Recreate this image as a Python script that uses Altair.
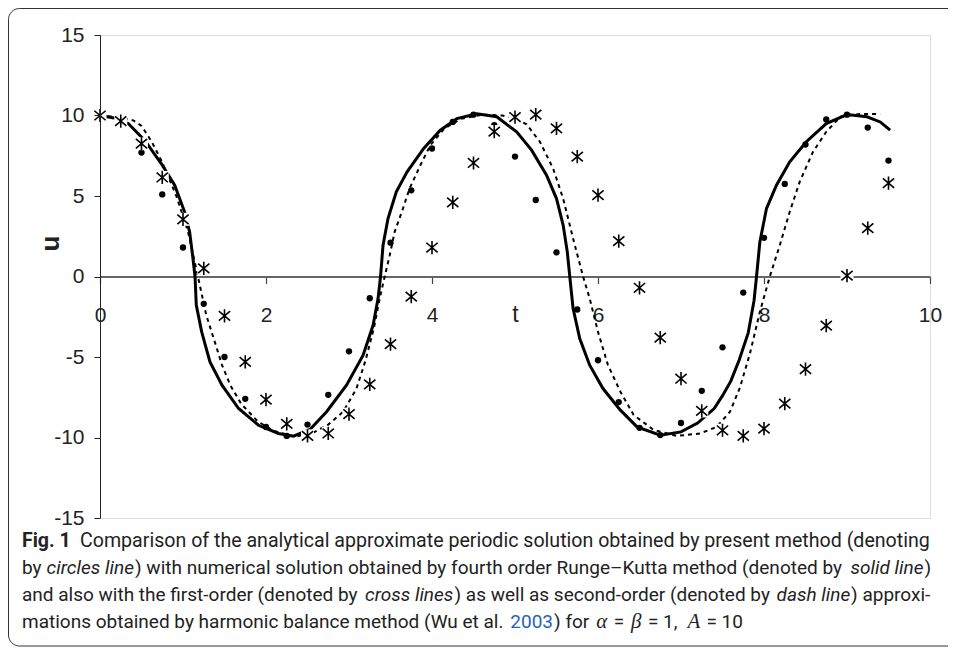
import altair as alt
import pandas as pd

# ---- numerical solution (fourth-order Runge-Kutta), solid line ----
solid_t = [0, 0.17, 0.34, 0.54, 0.74, 0.90, 1.02, 1.08, 1.12, 1.145, 1.16, 1.225, 1.325, 1.47,
           1.67, 1.91, 2.15, 2.33, 2.53, 2.73, 2.97, 3.17, 3.29, 3.35, 3.38, 3.41, 3.47, 3.57,
           3.70, 3.90, 4.10, 4.30, 4.54, 4.78, 5.02, 5.20, 5.38, 5.50, 5.58, 5.63, 5.66, 5.70,
           5.78, 5.90, 6.06, 6.27, 6.47, 6.75, 7.00, 7.20, 7.40, 7.50, 7.60, 7.70, 7.81, 7.88,
           7.91, 7.95, 8.03, 8.15, 8.31, 8.51, 8.75, 9.00, 9.24, 9.40, 9.52]
solid_u = [10, 9.85, 9.5, 8.45, 7.0, 5.67, 4.0, 2.77, 1.12, 0, -1.78, -3.44, -5.3, -6.75,
           -8.2, -9.24, -9.75, -9.92, -9.5, -8.4, -6.75, -4.89, -3.03, -1.37, 0, 1.94, 3.6, 5.26,
           6.5, 7.95, 9.09, 9.81, 10.1, 9.92, 8.99, 7.85, 6.29, 4.84, 3.19, 1.53, 0, -1.99,
           -3.85, -5.51, -6.96, -8.3, -9.34, -9.86, -9.65, -9.1, -8.2, -7.4, -6.5, -5.2, -3.5, -1.5,
           0, 2.14, 4.22, 5.67, 7.12, 8.37, 9.5, 10.06, 9.92, 9.6, 9.09]

# ---- second-order harmonic balance approximation, dash line ----
dash_t = [0, 0.2, 0.4, 0.5, 0.62, 0.75, 0.92, 1.06, 1.18, 1.28, 1.37, 1.47, 1.57, 1.70, 1.90,
          2.10, 2.35, 2.57, 2.75, 2.93, 3.09, 3.20, 3.30, 3.37, 3.43, 3.49, 3.55, 3.65, 3.73,
          3.86, 3.98, 4.15, 4.35, 4.60, 4.85, 5.00, 5.14, 5.30, 5.46, 5.58, 5.70, 5.82, 5.90,
          6.00, 6.12, 6.27, 6.43, 6.67, 6.95, 7.23, 7.43, 7.59, 7.71, 7.83, 7.95, 8.07, 8.19,
          8.31, 8.43, 8.59, 8.75, 8.92, 9.16, 9.40]
dash_u = [10, 9.9, 9.7, 9.35, 8.4, 7.1, 5.0, 2.8, 0, -2.4, -3.85, -5.5, -6.75, -7.9, -9.0,
          -9.6, -9.95, -9.7, -9.2, -8.4, -6.96, -5.2, -3.2, -1.37, 0, 1.3, 2.77, 4.22, 5.47,
          6.91, 8.16, 9.2, 9.8, 10.05, 10.0, 9.8, 9.45, 8.37, 6.7, 4.84, 2.36, 0, -1.37,
          -3.44, -5.5, -7.16, -8.6, -9.53, -9.9, -9.75, -9.34, -8.4, -6.9, -4.8, -2.2, 0, 1.94,
          4.02, 5.88, 7.74, 8.99, 9.92, 10.1, 10.1]

# ---- marker abscissae (shared by circles and crosses) ----
marker_t = [0, 0.25, 0.5, 0.75, 1.0, 1.25, 1.5, 1.75, 2.0, 2.25, 2.5, 2.75, 3.0, 3.25,
            3.5, 3.75, 4.0, 4.25, 4.5, 4.75, 5.0, 5.25, 5.5, 5.75, 6.0, 6.25, 6.5, 6.75,
            7.0, 7.25, 7.5, 7.75, 8.0, 8.25, 8.5, 8.75, 9.0, 9.25, 9.5]

# present method, circles
circle_u = [10, 9.6, 7.7, 5.1, 1.8, -1.7, -5.0, -7.6, -9.35, -9.9, -9.2, -7.35, -4.65, -1.35,
            2.1, 5.35, 7.95, 9.6, 10.05, 9.4, 7.45, 4.75, 1.5, -2.05, -5.2, -7.8, -9.4, -9.85,
            -9.1, -7.1, -4.4, -1.0, 2.4, 5.75, 8.2, 9.75, 10.05, 9.25, 7.2]

# first-order harmonic balance, crosses
cross_u = [10, 9.65, 8.25, 6.15, 3.55, 0.5, -2.45, -5.3, -7.65, -9.15, -9.9, -9.75, -8.55, -6.7,
           -4.2, -1.25, 1.8, 4.6, 7.05, 9.0, 9.9, 10.05, 9.2, 7.45, 5.05, 2.2, -0.7, -3.8,
           -6.35, -8.35, -9.55, -9.9, -9.45, -7.9, -5.75, -3.05, 0.05, 3.0, 5.8]

x_ticks = [0, 2, 4, 6, 8, 10]
y_ticks = [-15, -10, -5, 0, 5, 10, 15]

# caption pieces: (text, style, extra gap before in em)
caption_bold = "Fig. 1"
caption_rows = [
    [("Comparison of the analytical approximate periodic solution obtained by present method (denoting", "plain", 0)],
    [("by ", "plain", 0), ("circles line", "italic", 0),
     (") with numerical solution obtained by fourth order Runge\u2013Kutta method (denoted by ", "plain", 0),
     ("solid line", "italic", 0), (")", "plain", 0)],
    [("and also with the first-order (denoted by ", "plain", 0), ("cross lines", "italic", 0),
     (") as well as second-order (denoted by ", "plain", 0), ("dash line", "italic", 0),
     (") approxi-", "plain", 0)],
    [("mations obtained by harmonic balance method (Wu et al.", "plain", 0), ("2003", "link", 0.25),
     (") for", "plain", 0), ("\u03b1", "math", 0.35), ("=", "plain", 0.35),
     ("\u03b2", "math", 0.35), ("= 1,", "plain", 0.35),
     ("A", "math", 0.5), ("= 10", "plain", 0.35)],
]

solid_df = pd.DataFrame({"t": solid_t, "u": solid_u, "i": range(len(solid_t))})
dash_df = pd.DataFrame({"t": dash_t, "u": dash_u, "i": range(len(dash_t))})
circ_df = pd.DataFrame({"t": marker_t, "u": circle_u})
cross_df = pd.DataFrame({"t": marker_t, "u": cross_u})
one = pd.DataFrame({"a": [0]})

AX_FONT = "Liberation Sans, Arial, sans-serif"
CAP_FONT = "Roboto, Open Sans, sans-serif"
MATH_FONT = "Liberation Serif, DejaVu Serif, serif"

xscale = alt.Scale(domain=[0, 10], nice=False, zero=False)
yscale = alt.Scale(domain=[-15, 15], nice=False, zero=False)

X = alt.X("t:Q", scale=xscale, axis=alt.Axis(
    values=x_ticks, grid=False, orient="bottom", offset=-241.5, labelFlush=False,
    domainColor="#666666", domainWidth=2, tickColor="#444444", tickWidth=1.2, tickSize=7,
    labelFont=AX_FONT, labelFontSize=21, labelColor="#222222", labelPadding=21,
    labelExpr="'' + datum.value",
    title="t", titleFont=AX_FONT, titleFontSize=23, titleFontWeight="normal",
    titleColor="#222222", titleX=415, titleY=45, titleBaseline="alphabetic", titleAlign="center",
))
Y = alt.Y("u:Q", scale=yscale, axis=alt.Axis(
    values=y_ticks, grid=False, domainColor="#222222", domainWidth=1, labelFlush=False,
    tickColor="#222222", tickWidth=1, tickSize=6, zindex=1,
    labelFont=AX_FONT, labelFontSize=21, labelColor="#222222", labelPadding=10,
    labelExpr="'' + datum.value",
    title="u", titleFont=AX_FONT, titleFontSize=26, titleFontWeight="bold",
    titleColor="#222222", titleAngle=270, titleX=-50, titleY=208,
    titleBaseline="middle", titleAlign="center",
))

solid = alt.Chart(solid_df).mark_line(color="black", strokeWidth=3).encode(
    x=X, y=Y, order="i:Q")
dash = alt.Chart(dash_df).mark_line(color="black", strokeWidth=2, strokeDash=[4, 4]).encode(
    x="t:Q", y="u:Q", order="i:Q")
dots = alt.Chart(circ_df).mark_point(shape="circle", filled=True, color="black",
                                     size=40, opacity=1).encode(x="t:Q", y="u:Q")
backs = alt.Chart(cross_df).mark_point(shape="square", filled=True, color="white",
                                       size=170, opacity=1).encode(x="t:Q", y="u:Q")
CROSS = "M-0.85,-0.72L0.85,0.72M-0.85,0.72L0.85,-0.72M0,-1L0,1"
crosses = alt.Chart(cross_df).mark_point(shape=CROSS, filled=False, stroke="black",
                                         strokeWidth=1.6, size=175, opacity=1).encode(
    x="t:Q", y="u:Q")

frame = alt.Chart(one).mark_rect(fillOpacity=0, stroke="#333333", strokeWidth=1,
                                 cornerRadius=11).encode(
    x=alt.value(-91.5), x2=alt.value(900), y=alt.value(-26.5), y2=alt.value(611))

# ---- caption layout: approximate Roboto advance widths (1/2048 em) to chain segments ----
ROBOTO_W = {" ": 507, "(": 684, ")": 696, "-": 553, ".": 528, ",": 393, "\u2013": 1356,
            "=": 1100, "A": 1336, "K": 1284, "C": 1333, "R": 1261, "W": 1817,
            "a": 1088, "b": 1122, "c": 1046, "d": 1126, "e": 1058, "f": 694, "g": 1120,
            "h": 1102, "i": 486, "j": 478, "k": 1013, "l": 486, "m": 1752, "n": 1104,
            "o": 1140, "p": 1120, "q": 1135, "r": 677, "s": 1031, "t": 655, "u": 1101,
            "v": 967, "w": 1502, "x": 991, "y": 946, "z": 991}
MATH_W = {"\u03b1": 1130, "\u03b2": 1050, "A": 1251}


def tw(seg):
    txt, sty, gap = seg
    table = MATH_W if sty == "math" else ROBOTO_W
    w = sum(table.get(ch, 1150) for ch in txt) / 2048.0
    if sty == "italic":
        w *= 0.978
    return gap + w


row_y = [512, 539, 566, 593]
row_start = [-20, -78, -78, -78]
row_width = [851, 909, 909, None]      # justified rows fill to the right edge
row_size = [19.6, 19.05, 19.0, 19.0]
# pixels per em per px of font size, calibrated on the second row
calib = (row_width[1] / sum(tw(s) for s in caption_rows[1])) / row_size[1]

STYLE = {
    "plain": dict(font=CAP_FONT, fontWeight="normal", fontStyle="normal", color="#222222"),
    "italic": dict(font=CAP_FONT, fontWeight="normal", fontStyle="italic", color="#222222"),
    "link": dict(font=CAP_FONT, fontWeight="normal", fontStyle="normal", color="#2a5fb8"),
    "math": dict(font=MATH_FONT, fontWeight="normal", fontStyle="italic", color="#222222"),
}
texts = [alt.Chart(one).mark_text(text=caption_bold, font=CAP_FONT, fontSize=19.5,
                                  fontWeight="bold", align="left", baseline="alphabetic",
                                  color="#222222").encode(x=alt.value(-78), y=alt.value(row_y[0]))]
for r, row in enumerate(caption_rows):
    total = sum(tw(s) for s in row)
    scale = (row_width[r] / total) if row_width[r] else calib * row_size[r]
    acc = 0.0
    for seg in row:
        txt, sty, gap = seg
        acc += gap
        fs = row_size[r] * (1.1 if sty == "math" else 1.0)
        texts.append(alt.Chart(one).mark_text(
            text=txt, fontSize=fs, align="left", baseline="alphabetic", **STYLE[sty]).encode(
            x=alt.value(round(row_start[r] + acc * scale, 1)), y=alt.value(row_y[r])))
        acc += tw(seg) - gap

chart = alt.layer(frame, solid, dash, dots, backs, crosses, *texts).properties(
    width=830, height=483,
    padding={"left": 92, "top": 27, "right": 18, "bottom": 129},
    autosize=alt.AutoSizeParams(type="none"),
).configure_view(strokeWidth=0).configure(background="white")

chart.save("out.html", embed_options={"renderer": "svg", "actions": False})
